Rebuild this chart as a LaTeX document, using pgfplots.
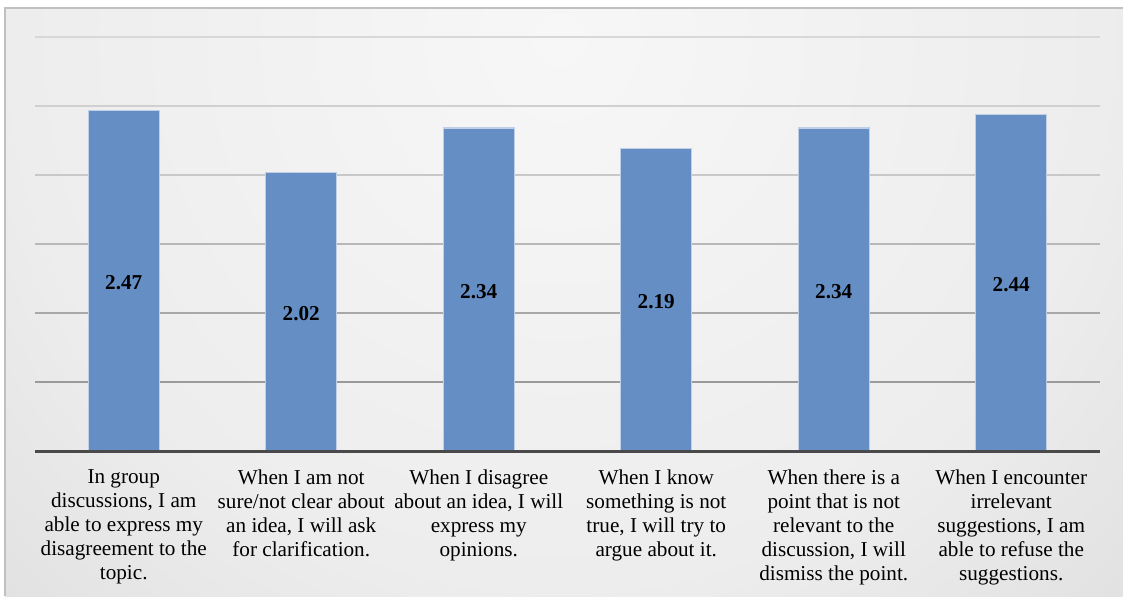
\documentclass[border=0pt]{standalone}
\usepackage{fontspec}
\setmainfont{Liberation Serif}
\usepackage{pgfplots}
\pgfplotsset{compat=1.18}

\definecolor{barblue}{RGB}{101,143,196}
\definecolor{baredge}{RGB}{190,207,230}
\definecolor{axisgray}{HTML}{4A4A4A}
\definecolor{framegray}{HTML}{C0C0C0}
\definecolor{bg0}{HTML}{F7F7F7}
\definecolor{bg1}{HTML}{EDEDED}
\definecolor{bg2}{HTML}{D4D4D4}
\definecolor{bg3}{HTML}{C4C4C4}
\definecolor{gA}{HTML}{9A9A9A}
\definecolor{gB}{HTML}{A8A8A8}
\definecolor{gC}{HTML}{B8B8B8}
\definecolor{gD}{HTML}{C8C8C8}
\definecolor{gE}{HTML}{D0D0D0}
\definecolor{gF}{HTML}{D8D8D8}

% soft radial background, brightest near the top centre
\pgfdeclareradialshading{chartbg}{\pgfpoint{0bp}{0bp}}{%
  color(0bp)=(bg0); color(17bp)=(bg1); color(34bp)=(bg2);
  color(48bp)=(bg3); color(50bp)=(bg3)}

\begin{document}
\begin{tikzpicture}[x=1pt,y=1pt]
\useasboundingbox (0,0) rectangle (561.5,298);
% chart area background
\begin{scope}
  \clip (2.5,0) rectangle (561.5,294);
  \shade[shading=chartbg] (280,278) circle (400);
\end{scope}
\draw[framegray, line width=0.6pt] (2.5,0) -- (2.5,294) -- (561.5,294);

% horizontal gridlines, darker towards the baseline
\foreach \v/\c in {0.5/gA, 1/gB, 1.5/gC, 2/gD, 2.5/gE, 3/gF}
  \draw[color=\c, line width=0.8pt] (17.5,72.5+\v*69) -- (550,72.5+\v*69);

\begin{axis}[
  at={(17.5pt,72.5pt)}, anchor=south west,
  width=532.5pt, height=207pt, scale only axis,
  xmin=-0.5, xmax=5.5, ymin=0, ymax=3,
  axis on top,
  axis x line*=bottom, axis y line=none,
  x axis line style={-, draw=axisgray, line width=1.5pt},
  xtick={0,1,2,3,4,5}, ytick=\empty,
  major tick length=0pt,
  xticklabels={
    {In group\\discussions, I am\\able to express my\\disagreement to the\\topic.},
    {When I am not\\sure/not clear about\\an idea, I will ask\\for clarification.},
    {When I disagree\\about an idea, I will\\express my\\opinions.},
    {When I know\\something is not\\true, I will try to\\argue about it.},
    {When there is a\\point that is not\\relevant to the\\discussion, I will\\dismiss the point.},
    {When I encounter\\irrelevant\\suggestions, I am\\able to refuse the\\suggestions.}},
  xticklabel style={align=center, font=\fontsize{10.6}{12}\selectfont, yshift=-6pt, text=black},
  ybar, bar width=0.4,
  /pgf/number format/assume math mode=true,
  visualization depends on={y \as \rawy},
  nodes near coords={\pgfmathprintnumber[fixed,fixed zerofill,precision=2]{\pgfplotspointmeta}},
  every node near coord/.append style={
    font=\fontsize{10.6}{12}\selectfont\bfseries, text=black,
    anchor=center, shift={(axis direction cs:0,-\rawy/2)}, yshift=-1pt},
]
\addplot[fill=barblue, draw=baredge, line width=0.6pt]
  coordinates {(0,2.47) (1,2.02) (2,2.34) (3,2.19) (4,2.34) (5,2.44)};
\end{axis}
\end{tikzpicture}
\end{document}
